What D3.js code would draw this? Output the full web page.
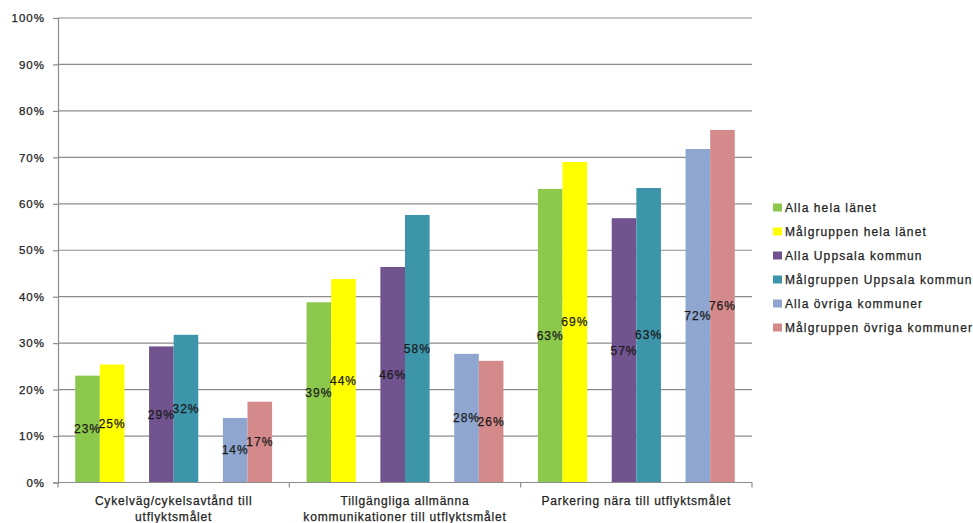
<!DOCTYPE html>
<html><head><meta charset="utf-8">
<script src="https://cdn.jsdelivr.net/npm/d3@7"></script>
<style>
body{margin:0;background:#fff;}
text{font-family:"Liberation Sans",Arial,sans-serif;}
</style></head>
<body>
<svg id="c" width="973" height="523"></svg>
<script>
const categories = [
  ["Cykelväg/cykelsavtånd till", "utflyktsmålet"],
  ["Tillgängliga allmänna", "kommunikationer till utflyktsmålet"],
  ["Parkering nära till utflyktsmålet"]
];
const seriesNames = ["Alla hela länet","Målgruppen hela länet","Alla Uppsala kommun","Målgruppen Uppsala kommun","Alla övriga kommuner","Målgruppen övriga kommuner"];
const seriesColors = ["#8CC84B","#FFFF00","#71548F","#3D95AA","#8EA6D0","#D48A8A"];
const alla_hela = [23.0, 38.8, 63.2];
const malg_hela = [25.4, 43.8, 69.0];
const alla_uppsala = [29.3, 46.4, 56.9];
const malg_uppsala = [31.8, 57.6, 63.4];
const alla_ovriga = [13.9, 27.7, 71.8];
const malg_ovriga = [17.4, 26.2, 75.9];
const yTicks = [0,10,20,30,40,50,60,70,80,90,100];

const seriesValues = [alla_hela, malg_hela, alla_uppsala, malg_uppsala, alla_ovriga, malg_ovriga];
const svg = d3.select("#c");
const m = {l:58, r:752, t:18, b:482.5};

const x0 = d3.scaleBand().domain(d3.range(categories.length)).range([m.l, m.r]).paddingInner(0).paddingOuter(0);
const x1 = d3.scaleBand().domain(d3.range(8)).range([0, x0.bandwidth()]).paddingInner(0).paddingOuter(0.7);
const y = d3.scaleLinear().domain([0,100]).range([m.b, m.t]);
const slot = i => i + Math.floor(i/2);

// gridlines
svg.append("g").selectAll("line").data(yTicks.filter(d=>d>0)).join("line")
  .attr("x1", m.l).attr("x2", m.r).attr("y1", d=>y(d)).attr("y2", d=>y(d))
  .attr("stroke","#8c8c8c").attr("stroke-width",1.2);

// y axis
const ya = svg.append("g").attr("transform",`translate(${m.l},0)`)
  .call(d3.axisLeft(y).tickValues(yTicks).tickFormat(d=>d+"%").tickSize(5).tickPadding(8));
ya.select(".domain").attr("stroke","#8c8c8c").attr("stroke-width",1.2);
ya.selectAll(".tick line").attr("stroke","#8c8c8c").attr("stroke-width",1.2);
ya.selectAll(".tick text").attr("font-size","11.5px").attr("fill","#222").style("letter-spacing","1px")
  .attr("stroke","#222").attr("stroke-width",0.25)
  .attr("font-family","'Liberation Sans',Arial,sans-serif");

// bars
const groups = svg.append("g").selectAll("g").data(categories.map((c,ci)=>ci)).join("g")
  .attr("transform", ci=>`translate(${x0(ci)},0)`);
groups.selectAll("rect").data(ci=>seriesValues.map((s,si)=>({si, v:s[ci]}))).join("rect")
  .attr("x", d=>x1(slot(d.si))).attr("width", x1.bandwidth())
  .attr("y", d=>y(d.v)).attr("height", d=>y(0)-y(d.v))
  .attr("fill", d=>seriesColors[d.si]);
groups.selectAll("text").data(ci=>seriesValues.map((s,si)=>({si, v:s[ci]}))).join("text")
  .attr("x", d=>x1(slot(d.si))+x1.bandwidth()/2)
  .attr("y", d=>(y(d.v)+y(0))/2)
  .attr("dy","0.35em").attr("text-anchor","middle")
  .attr("font-size","12px").attr("fill","#1a1a1a").attr("stroke","#1a1a1a").attr("stroke-width",0.25)
  .style("letter-spacing","1px")
  .text(d=>Math.round(d.v)+"%");

// x axis
svg.append("line").attr("x1",m.l).attr("x2",m.r).attr("y1",y(0)).attr("y2",y(0))
  .attr("stroke","#8c8c8c").attr("stroke-width",1.2);
const bounds = d3.range(categories.length+1).map(i=> i<categories.length ? x0(i) : m.r);
svg.append("g").selectAll("line").data(bounds).join("line")
  .attr("x1",d=>d).attr("x2",d=>d).attr("y1",y(0)).attr("y2",y(0)+5)
  .attr("stroke","#8c8c8c").attr("stroke-width",1.2);
const cl = svg.append("g").selectAll("text").data(categories).join("text")
  .attr("x",(d,i)=>x0(i)+x0.bandwidth()/2).attr("y",505)
  .attr("text-anchor","middle").attr("font-size","12px").attr("fill","#222")
  .attr("stroke","#222").attr("stroke-width",0.25).style("letter-spacing","0.8px");
cl.selectAll("tspan").data(d=>d).join("tspan")
  .attr("x",function(){return this.parentNode.getAttribute("x");})
  .attr("dy",(d,i)=>i===0?0:15.5).text(d=>d);

// legend
const lg = svg.append("g").selectAll("g").data(seriesNames).join("g")
  .attr("transform",(d,i)=>`translate(773,${207.5 + i*24})`);
lg.append("rect").attr("x",0).attr("y",-4).attr("width",9).attr("height",8).attr("fill",(d,i)=>seriesColors[i]);
lg.append("text").attr("x",12).attr("dy","0.35em").attr("font-size","12px").attr("fill","#222")
  .attr("stroke","#222").attr("stroke-width",0.25)
  .style("letter-spacing","1.1px").text(d=>d);
</script>
</body></html>
